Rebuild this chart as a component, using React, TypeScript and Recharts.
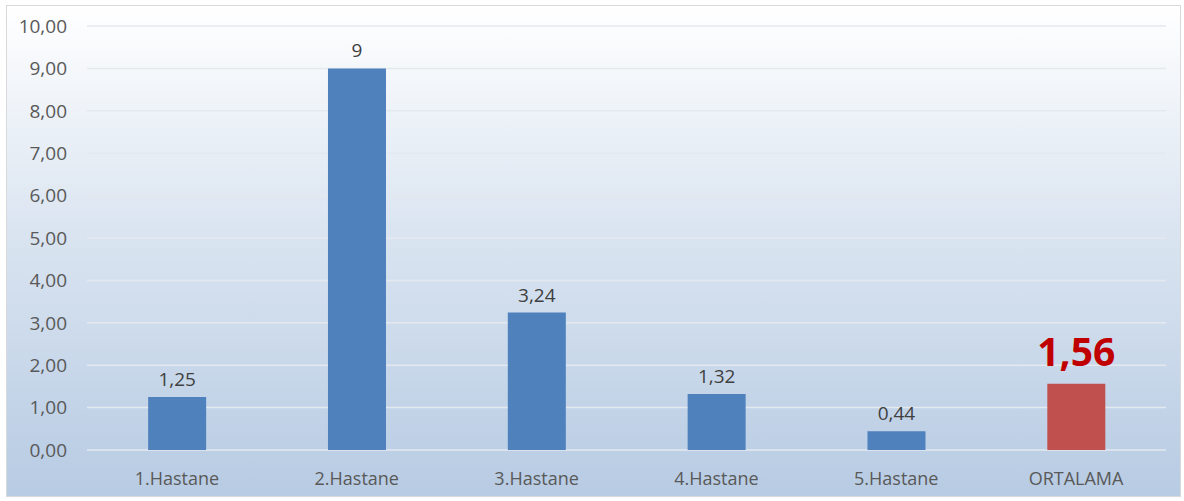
import React from 'react';
import { BarChart, Bar, XAxis, YAxis, CartesianGrid, Cell, LabelList } from 'recharts';

const categories = ['1.Hastane', '2.Hastane', '3.Hastane', '4.Hastane', '5.Hastane', 'ORTALAMA'];
const values = [1.25, 9, 3.24, 1.32, 0.44, 1.56];
const yTicks = [0, 1, 2, 3, 4, 5, 6, 7, 8, 9, 10];

const data = categories.map((name, i) => ({ name, value: values[i] }));

const FONT = '"Open Sans", Calibri, sans-serif';
const BLUE = '#4f81bd';
const RED = '#c0504d';

const fmt = (v: number) => String(v).replace('.', ',');

const renderLabel = (props: any) => {
  const { x, y, width, value, index } = props;
  const isAvg = index === categories.length - 1;
  return (
    <text
      x={x + width / 2}
      y={isAvg ? y - 18 : y - 11}
      textAnchor="middle"
      fontFamily={FONT}
      fontSize={isAvg ? 39 : 19}
      fontWeight={isAvg ? 700 : 400}
      fill={isAvg ? '#c00000' : '#404040'}
    >
      {fmt(value)}
    </text>
  );
};

export default function App() {
  return (
    <div
      style={{
        position: 'absolute',
        left: 6,
        top: 5,
        width: 1175,
        height: 492,
        border: '1px solid #d9d9d9',
        boxSizing: 'border-box',
        background: 'linear-gradient(to bottom, #ffffff 0%, #dbe5f1 45%, #b7cbe3 100%)',
      }}
    >
      <BarChart
        width={1173}
        height={490}
        data={data}
        margin={{ top: 20, right: 14, left: 0, bottom: 0 }}
        barCategoryGap="34%"
      >
        <CartesianGrid vertical={false} stroke="#e4e9f0" strokeWidth={1.5} />
        <XAxis
          dataKey="name"
          height={46}
          axisLine={false}
          tickLine={false}
          tickSize={0}
          tickMargin={22}
          tick={{ fill: '#595959', fontSize: 18, fontFamily: FONT }}
          interval={0}
        />
        <YAxis
          width={80}
          domain={[0, 10]}
          ticks={yTicks}
          axisLine={false}
          tickLine={false}
          tickSize={0}
          tickMargin={20}
          tickFormatter={(v: number) => v.toFixed(2).replace('.', ',')}
          tick={{ fill: '#595959', fontSize: 19, fontFamily: FONT }}
        />
        <Bar dataKey="value" isAnimationActive={false}>
          {data.map((d, i) => (
            <Cell key={d.name} fill={i === data.length - 1 ? RED : BLUE} />
          ))}
          <LabelList dataKey="value" content={renderLabel} />
        </Bar>
      </BarChart>
    </div>
  );
}
